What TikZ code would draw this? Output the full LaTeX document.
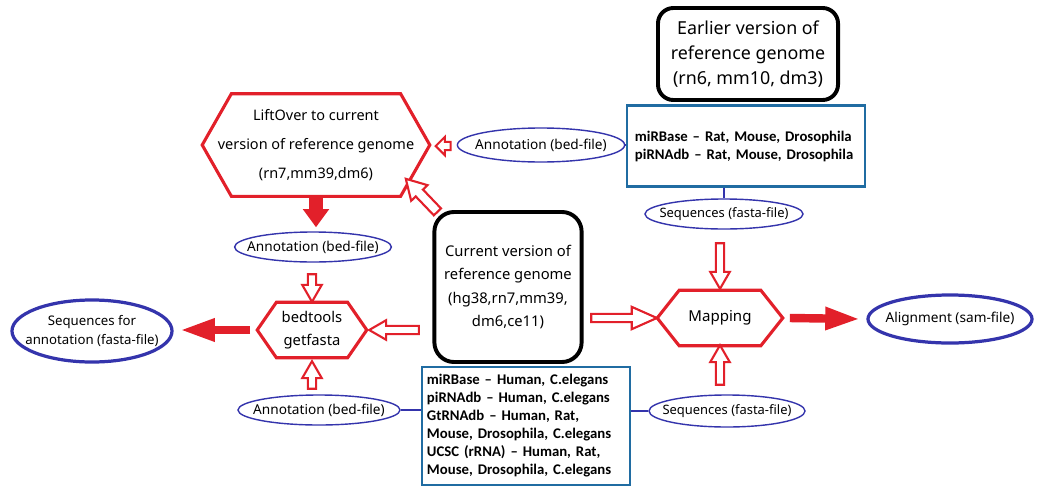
\documentclass[tikz,border=0pt]{standalone}
\usepackage{fontspec}
\setmainfont{Noto Sans}
\newfontfamily\calibri{Carlito}
\usetikzlibrary{arrows.meta,shapes.geometric,shapes.arrows,calc}

\definecolor{hexred}{RGB}{226,32,42}
\definecolor{ovalblue}{RGB}{52,52,172}
\definecolor{dbblue}{RGB}{32,108,162}

\tikzset{
  oval/.style={ellipse, draw=ovalblue, line width=1pt, inner xsep=-12pt, inner ysep=0pt, align=center, font=\fontsize{9.7}{13.5}\selectfont},
  bigoval/.style={oval, line width=2.3pt},
  genome/.style={rectangle, rounded corners=11pt, draw=black, line width=2.8pt, align=center, inner sep=0pt},
  dbbox/.style={rectangle, draw=dbblue, line width=2pt, align=left, inner sep=0pt, font=\calibri\bfseries\fontsize{10.5}{12.8}\selectfont},
  hexnode/.style={rectangle, inner sep=0pt, align=center},
  hexline/.style={draw=hexred, line width=2.2pt, line join=miter},
  harrow/.style={single arrow, draw=hexred, fill=white, line width=1.5pt, inner sep=2.2pt, single arrow head extend=4pt, single arrow tip angle=60},
  farrow/.style={draw=hexred, line width=6pt, -{Triangle[length=25pt, width=15pt]}},
  link/.style={draw=ovalblue, line width=0.8pt}
}

% hexagon frame round a (rectangular) node
\newcommand\hexframe[2]{\draw[hexline] (#1.west) -- ([xshift=#2]#1.north west) -- ([xshift=-#2]#1.north east) -- (#1.east) -- ([xshift=-#2]#1.south east) -- ([xshift=#2]#1.south west) -- cycle;}
% hollow block arrow from one point to another
\newcommand\hollowarrow[3][]{%
  \path #2 coordinate (ha-s) #3 coordinate (ha-e);
  \path let \p1=(ha-s), \p2=(ha-e), \n1={veclen(\x2-\x1,\y2-\y1)}, \n2={atan2(\y2-\y1,\x2-\x1)} in
    node[harrow, minimum height=\n1, rotate=\n2, #1] at ($(ha-s)!.5!(ha-e)$) {};}

\begin{document}
\begin{tikzpicture}[x=0.025cm, y=-0.025cm]
	\useasboundingbox (0,0) rectangle (1040,487);
	% genomes and databases
	\node[genome, minimum width=4.5cm, minimum height=2.3cm, font=\fontsize{12.7}{17.8}\selectfont] (earlier) at (748,54) {Earlier version of\\reference genome\\(rn6, mm10, dm3)};
	\node[genome, rounded corners=14pt, minimum width=3.68cm, minimum height=3.75cm, font=\fontsize{10.5}{16.4}\selectfont] (current) at (508,287) {Current version of\\reference genome\\(hg38,rn7,mm39,\\dm6,ce11)};
	\node[dbbox, minimum width=5.95cm, minimum height=2.03cm, text width=5.55cm] (dbtop) at (746,146) {miRBase – Rat, Mouse, Drosophila\\piRNAdb – Rat, Mouse, Drosophila};
	\node[dbbox, minimum width=5.2cm, minimum height=2.95cm, text width=4.95cm] (dbbot) at (526,426) {miRBase – Human, C.elegans\\piRNAdb – Human, C.elegans\\GtRNAdb – Human, Rat,\\Mouse, Drosophila, C.elegans\\UCSC (rRNA) – Human, Rat,\\Mouse, Drosophila, C.elegans};
	% files
	\node[oval, minimum width=4.18cm, minimum height=0.85cm] (anntop) at (541,145) {Annotation (bed-file)};
	\node[oval, minimum width=3.95cm, minimum height=0.75cm, font=\fontsize{9.2}{13}\selectfont] (seqtop) at (724,214) {Sequences (fasta-file)};
	\node[oval, minimum width=3.92cm, minimum height=0.75cm] (annmid) at (313,247) {Annotation (bed-file)};
	\node[oval, minimum width=4.05cm, minimum height=0.75cm] (annbot) at (319,410) {Annotation (bed-file)};
	\node[oval, minimum width=3.9cm, minimum height=0.8cm, font=\fontsize{9.2}{13}\selectfont] (seqbot) at (727,411) {Sequences (fasta-file)};
	\node[bigoval, minimum width=4cm, minimum height=1.55cm, font=\fontsize{9.4}{13.5}\selectfont] (seqann) at (92,331) {Sequences for\\annotation (fasta-file)};
	\node[bigoval, minimum width=4.1cm, minimum height=1.2cm] (align) at (950,319) {Alignment (sam-file)};
	% tools
	\node[hexnode, minimum width=5.675cm, minimum height=2.55cm, font=\fontsize{10.3}{20.6}\selectfont] (lift) at (316,145) {LiftOver to current\\version of reference genome\\(rn7,mm39,dm6)};
	\node[hexnode, minimum width=2.725cm, minimum height=1.375cm, font=\fontsize{10.5}{16.4}\selectfont] (bedtools) at (312,330) {bedtools\\getfasta};
	\node[hexnode, minimum width=3.125cm, minimum height=1.375cm, font=\fontsize{10.7}{13}\selectfont] (mapping) at (720,318) {Mapping};
	\hexframe{lift}{0.73cm}
	\hexframe{bedtools}{0.48cm}
	\hexframe{mapping}{0.55cm}
	% links to the databases
	\draw[link] (anntop.east) -- (dbtop.west |- anntop.east);
	\draw[link] (seqtop.north) -- (seqtop.north |- dbtop.south);
	\draw[link] (annbot.east) -- (dbbot.west |- annbot.east);
	\draw[link] (seqbot.west) -- (dbbot.east |- seqbot.west);
	% hollow arrows
	\hollowarrow[single arrow tip angle=90, single arrow head extend=3.5pt]{($(anntop.west)+(-4,1)$)}{($(lift.east)+(8,1)$)}
	\hollowarrow[inner sep=2.8pt, single arrow head extend=4.5pt]{($(current.north west)+(8,5)$)}{($(lift.east)!0.72!([xshift=-0.73cm]lift.south east)$)}
	\hollowarrow{($(bedtools.north |- annmid.south)+(0,8)$)}{($(bedtools.north)+(0,-4)$)}
	\hollowarrow{($(bedtools.south |- annbot.north)+(0,-2)$)}{($(bedtools.south)+(0,7)$)}
	\hollowarrow{($(current.west |- bedtools.east)+(-10,0)$)}{($(bedtools.east)+(6,0)$)}
	\hollowarrow[single arrow head extend=5pt, single arrow tip angle=48]{($(current.east |- mapping.west)+(3,0)$)}{($(mapping.west)+(-5,0)$)}
	\hollowarrow{($(mapping.north |- seqtop.south)+(0,10)$)}{($(mapping.north)+(0,-5)$)}
	\hollowarrow{($(mapping.south |- seqbot.north)+(0,-6)$)}{($(mapping.south)+(0,3)$)}
	% filled arrows
	\draw[farrow, line width=10.5pt, -{Triangle[length=13pt, width=18pt]}] (lift.south) -- ($(lift.south |- annmid.north)+(0,-4)$);
	\draw[farrow] ($(bedtools.west)+(-7,0)$) -- ($(seqann.east |- bedtools.west)+(6,0)$);
	\draw[farrow] ($(mapping.east)+(7,0)$) -- ($(align.west)+(-6,0)$);
\end{tikzpicture}
\end{document}
